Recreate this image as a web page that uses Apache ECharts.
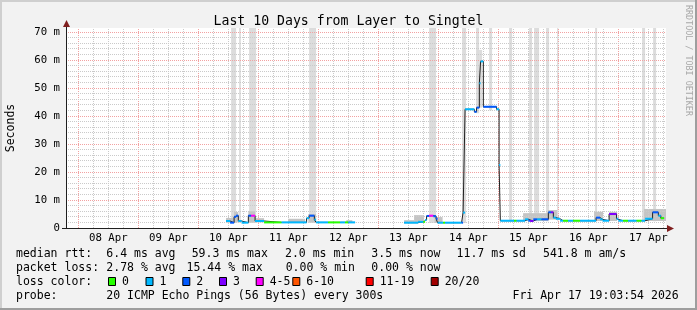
<!DOCTYPE html>
<html><head><meta charset="utf-8">
<script src="https://cdn.jsdelivr.net/npm/echarts@6/dist/echarts.min.js"></script>
<style>html,body{margin:0;padding:0;background:#f2f2f2}#c{width:697px;height:310px}</style>
</head><body><div id="c"></div>
<script>
// ---------- data ----------
const titleText = 'Last 10 Days from Layer to Singtel';
const yAxisTitle = 'Seconds';
const watermark = 'RRDTOOL / TOBI OETIKER';
// x in hours since 07 Apr 00:00; window = Apr 7 19:03:54 .. Apr 17 19:03:54
const xStart = 19.065;
const xEnd = 259.065;
const yMax = 71.4286;
const dayLabelAt = [36, 60, 84, 108, 132, 156, 180, 204, 228, 252];
const dayLabels = ['08 Apr', '09 Apr', '10 Apr', '11 Apr', '12 Apr', '13 Apr', '14 Apr', '15 Apr', '16 Apr', '17 Apr'];
const yTickValues = [0, 10, 20, 30, 40, 50, 60, 70];
const yTickLabels = ['0', '10 m', '20 m', '30 m', '40 m', '50 m', '60 m', '70 m'];

// median rtt (ms) step series: value holds from medT[i] to medT[i+1]; null = no data
const medT = [83.1, 84.7, 86.3, 87.1, 88.0, 89.3, 92.0, 93.1, 94.7, 98.3, 105.3, 115.3, 116.3, 118.4, 119.1, 123.9, 128.7, 130.7, 132.0, 134.7,
  154.3, 159.9, 162.0, 162.7, 163.3, 164.3, 166.0, 167.1, 167.7, 169.9, 170.7, 177.3, 177.9, 178.7, 182.4, 183.3, 184.4, 184.9, 186.0, 191.3,
  192.3, 192.8, 198.3, 199.3, 202.7, 204.0, 204.7, 206.0, 207.5, 209.3, 212.0, 213.1, 214.0, 215.0, 216.7, 217.9, 219.9, 221.9, 224.7, 231.1,
  232.7, 233.7, 236.3, 239.3, 240.0, 241.9, 243.9, 247.3, 249.3, 250.7, 253.7, 256.0, 257.0];
const medV = [2.5, 1.9, 4.0, 4.4, 2.5, 1.9, 4.4, 4.4, 2.5, 2.0, 2.0, 3.5, 4.4, 3.0, 2.0, 2.0, 2.0, 2.0, 2.0, null,
  1.9, 2.2, 2.2, 2.9, 4.3, 4.4, 4.2, 3.3, 1.9, 1.9, 1.9, 1.9, 5.5, 42.4, 41.5, 43.0, 51.7, 59.5, 43.3, 42.4,
  22.5, 2.6, 2.6, 2.6, 3.1, 2.6, 2.5, 3.1, 3.1, 3.1, 5.6, 5.6, 3.7, 3.3, 2.6, 2.6, 2.6, 2.6, 2.6, 3.7,
  3.1, 2.6, 5.0, 3.3, 2.6, 2.6, 2.6, 2.6, 2.6, 3.3, 5.6, 4.4, 3.5];
const medLoss = [1, 2, 2, 2, 1, 1, 2, 4, 1, 0, 1, 1, 2, 1, 1, 0, 1, 0, 1, 0,
  1, 1, 0, 1, 2, 4, 2, 2, 1, 0, 1, 2, 1, 1, 2, 2, 1, 1, 2, 1,
  1, 1, 0, 1, 1, 2, 3, 2, 1, 2, 2, 3, 1, 1, 1, 0, 1, 0, 1, 2,
  1, 1, 3, 1, 1, 0, 1, 0, 1, 1, 2, 1, 0];
const medEnd = 258.3;

// smoke (ping spread), ms
const smokeStart = [85.1, 88.3, 92.3, 116.3, 164.3, 177.5, 183.1, 188.3, 196.3, 204.3, 206.3, 211.1, 215.5, 230.7, 249.5, 253.9, 184.3,
  83.1, 86.3, 92.0, 94.7, 107.9, 116.0, 131.2, 154.3, 158.3, 166.5, 201.9, 211.9, 230.3, 236.3, 250.3];
const smokeEnd = [87.1, 89.0, 95.1, 119.1, 167.1, 179.1, 184.3, 189.5, 197.5, 205.5, 208.3, 212.3, 216.0, 231.5, 250.7, 255.1, 185.5,
  86.3, 88.0, 94.7, 98.3, 114.7, 119.1, 133.6, 158.3, 162.3, 169.7, 211.9, 215.5, 233.9, 239.5, 259.1];
const smokeLow = [1.8, 1.8, 1.8, 1.8, 1.8, 1.8, 41.0, 42.0, 2.4, 2.4, 2.4, 2.4, 2.4, 2.4, 2.4, 2.4, 43.0,
  1.9, 2.0, 2.0, 2.0, 1.9, 2.0, 1.9, 1.8, 1.8, 1.8, 2.5, 3.0, 2.5, 2.5, 2.5];
const smokeHigh = [71.43, 71.43, 71.43, 71.43, 71.43, 71.43, 71.43, 71.43, 71.43, 71.43, 71.43, 71.43, 71.43, 71.43, 71.43, 71.43, 63.6,
  3.6, 5.7, 6.0, 3.5, 3.3, 5.0, 2.8, 2.8, 4.6, 3.9, 5.3, 6.4, 5.8, 5.8, 6.8];
const smokeTone = [0, 0, 0, 0, 0, 0, 0, 0, 0, 0, 0, 0, 0, 0, 0, 0, 0,
  1, 1, 1, 1, 1, 1, 1, 1, 1, 1, 1, 1, 1, 1, 1];

const lossLabels = ['0', '1', '2', '3', '4-5', '6-10', '11-19', '20/20'];
const lossColors = ['#26ff00', '#00b8ff', '#0059ff', '#7e00ff', '#ff00ff', '#ff5500', '#ff0000', '#a10000'];

const rttStats = ['median rtt:', '6.4 ms avg', '59.3 ms max', '2.0 ms min', '3.5 ms now', '11.7 ms sd', '541.8 m am/s'];
const lossStats = ['packet loss:', '2.78 % avg', '15.44 % max', '0.00 % min', '0.00 % now'];
const lossColorTitle = 'loss color:';
const probeStats = ['probe:', '20 ICMP Echo Pings (56 Bytes) every 300s'];
const dateText = 'Fri Apr 17 19:03:54 2026';

// ---------- layout / style ----------
const FONT = '"DejaVu Sans Mono", monospace';
const X0 = 66, Y0 = 28, W = 600, H = 200;
const rttX = [16, 106.3, 191.7, 285, 371.3, 456.6, 543];
const lossX = [16, 106.3, 186.6, 285.7, 371.3];
const lossBoxX = [108, 145.5, 182.3, 219, 255.7, 292.3, 365.7, 430.7];
const rowY = [254.5, 268, 282, 296];
const LEG_FS = 11.5;
const tallGray = '#dcdcdc', nearGray = '#c4c4c4';
const redGrid = '#f2a2a2', grayGrid = '#cacaca';

// ---------- derived series ----------
const lineData = [];
const bandData = [];
for (let i = 0; i < medT.length; i++) {
  const v = medV[i];
  const nextT = i + 1 < medT.length ? medT[i + 1] : medEnd;
  const nextV = i + 1 < medT.length ? medV[i + 1] : null;
  if (v === null) { lineData.push([medT[i], null]); continue; }
  lineData.push([medT[i], v]);
  if (nextV === null) lineData.push([nextT, v]);
  bandData.push([medT[i], nextT, v, medLoss[i]]);
}
const smokeData = smokeStart.map((s, i) => [s, smokeEnd[i], smokeLow[i], smokeHigh[i], smokeTone[i]]);

// grid lines: [value, isMajor]
const vGridData = [], hGridData = [];
for (let h = 6 * Math.ceil(xStart / 6); h < xEnd; h += 6) vGridData.push([h, h % 24 === 0 ? 1 : 0]);
for (let v = 2; v <= 70; v += 2) hGridData.push([v, v % 10 === 0 ? 1 : 0]);

const graphics = [];
function txt(x, y, s, opts) {
  graphics.push(Object.assign({ type: 'text', x: x, y: y, silent: true,
    style: Object.assign({ text: s, fontFamily: FONT, fontSize: LEG_FS, fill: '#000', verticalAlign: 'middle', align: 'left' }, (opts && opts.style) || {}) },
    opts && opts.rotation !== undefined ? { rotation: opts.rotation } : {}));
}
// frame (shade A top/left, shade B bottom/right)
graphics.push({ type: 'rect', shape: { x: 0, y: 0, width: 697, height: 2 }, style: { fill: '#cfcfcf' }, silent: true });
graphics.push({ type: 'rect', shape: { x: 0, y: 0, width: 2, height: 310 }, style: { fill: '#cfcfcf' }, silent: true });
graphics.push({ type: 'rect', shape: { x: 0, y: 308, width: 697, height: 2 }, style: { fill: '#9e9e9e' }, silent: true });
graphics.push({ type: 'rect', shape: { x: 695, y: 0, width: 2, height: 310 }, style: { fill: '#9e9e9e' }, silent: true });
// axes + arrows
graphics.push({ type: 'line', shape: { x1: 66.5, y1: 229, x2: 66.5, y2: 24 }, style: { stroke: '#1f1f1f', lineWidth: 1 }, silent: true, z: 50 });
graphics.push({ type: 'line', shape: { x1: 62, y1: 228.5, x2: 668, y2: 228.5 }, style: { stroke: '#1f1f1f', lineWidth: 1 }, silent: true, z: 50 });
graphics.push({ type: 'polygon', shape: { points: [[63, 27], [70, 27], [66.5, 20]] }, style: { fill: '#801f1f' }, silent: true, z: 50 });
graphics.push({ type: 'polygon', shape: { points: [[667, 225], [667, 232], [674, 228.5]] }, style: { fill: '#801f1f' }, silent: true, z: 50 });
// watermark
txt(688, 5, watermark, { rotation: -Math.PI / 2, style: { fontSize: 8.4, fill: '#a8a8a8', verticalAlign: 'middle', align: 'left' } });
// legend rows
rttStats.forEach((s, i) => txt(rttX[i], rowY[0], s));
lossStats.forEach((s, i) => txt(lossX[i], rowY[1], s));
txt(16, rowY[2], lossColorTitle);
lossLabels.forEach((s, i) => {
  graphics.push({ type: 'rect', silent: true, shape: { x: lossBoxX[i] + 0.5, y: rowY[2] - 4.5, width: 7, height: 8 },
    style: { fill: lossColors[i], stroke: '#000', lineWidth: 1 } });
  txt(lossBoxX[i] + 14, rowY[2], s);
});
txt(16, rowY[3], probeStats[0]);
txt(106.3, rowY[3], probeStats[1]);
txt(512.5, rowY[3], dateText);

const chart = echarts.init(document.getElementById('c'), null, { renderer: 'canvas' });
chart.setOption({
  backgroundColor: '#f2f2f2',
  animation: false,
  title: { text: titleText, left: 'center', top: 10,
    textStyle: { fontFamily: FONT, fontSize: 13.2, fontWeight: 'normal', color: '#000' } },
  grid: { left: X0, top: Y0, width: W, height: H, show: true, backgroundColor: '#ffffff', borderWidth: 0,
    containLabel: false, outerBoundsMode: 'none' },
  xAxis: {
    type: 'value', min: xStart, max: xEnd,
    axisLine: { show: false }, axisTick: { show: false }, splitLine: { show: false },
    axisLabel: { customValues: dayLabelAt, margin: 5,
      fontFamily: FONT, fontSize: 10.7, color: '#000',
      formatter: v => { const i = dayLabelAt.indexOf(v); return i >= 0 ? dayLabels[i] : ''; } }
  },
  yAxis: {
    type: 'value', min: 0, max: yMax,
    name: yAxisTitle, nameLocation: 'middle', nameGap: 49, nameRotate: 90,
    nameTextStyle: { fontFamily: FONT, fontSize: LEG_FS, color: '#000' },
    axisLine: { show: false }, axisTick: { show: false }, splitLine: { show: false },
    axisLabel: { customValues: yTickValues, margin: 6, fontFamily: FONT, fontSize: 10.7, color: '#000',
      formatter: v => { const i = yTickValues.indexOf(v); return i >= 0 ? yTickLabels[i] : ''; } }
  },
  graphic: graphics,
  series: [
    { type: 'custom', name: 'smoke', z: 1, silent: true, clip: true,
      data: smokeData, encode: { x: [0, 1], y: [2, 3] },
      renderItem: (params, api) => {
        const a = api.coord([api.value(0), api.value(3)]);
        const b = api.coord([api.value(1), api.value(2)]);
        return { type: 'rect', shape: { x: a[0], y: a[1], width: b[0] - a[0], height: b[1] - a[1] },
          style: { fill: api.value(4) === 0 ? tallGray : nearGray } };
      } },
    { type: 'custom', name: 'vgrid', z: 2, silent: true, data: vGridData, encode: { x: 0 },
      renderItem: (params, api) => {
        const p0 = api.coord([api.value(0), 0]);
        const p1 = api.coord([api.value(0), yMax]);
        const x = Math.floor(p0[0]) + 0.5;
        return { type: 'line', silent: true, shape: { x1: x, y1: p0[1], x2: x, y2: p1[1] },
          style: { stroke: api.value(1) ? redGrid : grayGrid, lineWidth: 1, lineDash: [1, 1], fill: null } };
      } },
    { type: 'custom', name: 'hgrid', z: 2, silent: true, data: hGridData, encode: { y: 0 },
      renderItem: (params, api) => {
        const p0 = api.coord([xStart, api.value(0)]);
        const p1 = api.coord([xEnd, api.value(0)]);
        const y = Math.floor(p0[1]) + 0.5;
        return { type: 'line', silent: true, shape: { x1: p0[0], y1: y, x2: p1[0], y2: y },
          style: { stroke: api.value(1) ? redGrid : grayGrid, lineWidth: 1, lineDash: [1, 1], fill: null } };
      } },
    { type: 'line', name: 'median', z: 3, step: 'end', data: lineData, showSymbol: false, connectNulls: false,
      lineStyle: { color: '#202020', width: 1 }, silent: true },
    { type: 'custom', name: 'loss', z: 4, silent: true, data: bandData, encode: { x: [0, 1], y: 2 },
      renderItem: (params, api) => {
        const a = api.coord([api.value(0), api.value(2)]);
        const b = api.coord([api.value(1), api.value(2)]);
        return { type: 'rect', shape: { x: a[0], y: a[1] - 1, width: b[0] - a[0], height: 2 },
          style: { fill: lossColors[api.value(3)] } };
      } }
  ]
});
</script></body></html>
